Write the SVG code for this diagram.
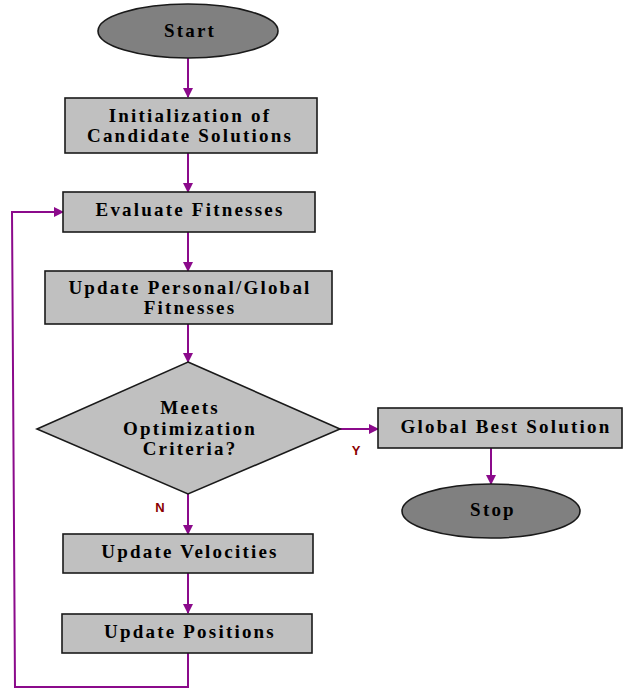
<svg xmlns="http://www.w3.org/2000/svg" width="625" height="691" viewBox="0 0 625 691">
<defs>
<style>
.box{fill:#c0c0c0;stroke:#1a1a1a;stroke-width:1.6}
.term{fill:#808080;stroke:#1a1a1a;stroke-width:1.6}
.t{font-family:"Liberation Serif","Times New Roman",serif;font-weight:bold;font-size:19px;letter-spacing:2.2px;fill:#000;text-anchor:middle}
.c{fill:none;stroke:#8b0a8b;stroke-width:2}
.lab{font-family:"Liberation Sans",Arial,sans-serif;font-weight:bold;font-size:13px;fill:#8b0000;text-anchor:middle}
</style>
<marker id="ah" markerWidth="10" markerHeight="10" refX="9" refY="5" orient="auto" markerUnits="userSpaceOnUse">
<path d="M0,0 L10,5 L0,10 Z" fill="#8b0a8b"/>
</marker>
</defs>
<rect width="625" height="691" fill="#fff"/>
<g id="connectors">
<line class="c" x1="188" y1="58" x2="188" y2="97" marker-end="url(#ah)"/>
<line class="c" x1="188" y1="153" x2="188" y2="192" marker-end="url(#ah)"/>
<line class="c" x1="188" y1="232" x2="188" y2="271" marker-end="url(#ah)"/>
<line class="c" x1="188" y1="324" x2="188" y2="362" marker-end="url(#ah)"/>
<line class="c" x1="340" y1="429" x2="378" y2="429" marker-end="url(#ah)"/>
<line class="c" x1="491" y1="448" x2="491" y2="484" marker-end="url(#ah)"/>
<line class="c" x1="188" y1="494" x2="188" y2="534" marker-end="url(#ah)"/>
<line class="c" x1="188" y1="573" x2="188" y2="613" marker-end="url(#ah)"/>
<polyline class="c" points="188,653 188,687 15,687 12,212 63,212" marker-end="url(#ah)"/>
<text class="lab" x="356" y="455">Y</text>
<text class="lab" x="160" y="512">N</text>
</g>
<g id="start">
<ellipse class="term" cx="188" cy="31" rx="90" ry="27"/>
<text class="t" x="190" y="37" font-size="20">Start</text>
</g>
<g id="init">
<rect class="box" x="65" y="98" width="252" height="55"/>
<text class="t" x="190" y="122">Initialization of</text>
<text class="t" x="190" y="142">Candidate Solutions</text>
</g>
<g id="evaluate">
<rect class="box" x="63" y="192" width="252" height="40"/>
<text class="t" x="190" y="216">Evaluate Fitnesses</text>
</g>
<g id="update-personal">
<rect class="box" x="45" y="271" width="287" height="53"/>
<text class="t" x="190" y="294">Update Personal/Global</text>
<text class="t" x="190" y="314">Fitnesses</text>
</g>
<g id="decision">
<polygon class="box" points="188,362 340,429 188,494 37,429"/>
<text class="t" x="190" y="414">Meets</text>
<text class="t" x="190" y="435">Optimization</text>
<text class="t" x="190" y="455">Criteria?</text>
</g>
<g id="global-best">
<rect class="box" x="378" y="408" width="244" height="40"/>
<text class="t" x="506" y="433">Global Best Solution</text>
</g>
<g id="stop">
<ellipse class="term" cx="491" cy="511" rx="89" ry="27"/>
<text class="t" x="493" y="516" font-size="20">Stop</text>
</g>
<g id="velocities">
<rect class="box" x="63" y="534" width="250" height="39"/>
<text class="t" x="190" y="558">Update Velocities</text>
</g>
<g id="positions">
<rect class="box" x="62" y="614" width="250" height="39"/>
<text class="t" x="190" y="638">Update Positions</text>
</g>
</svg>
